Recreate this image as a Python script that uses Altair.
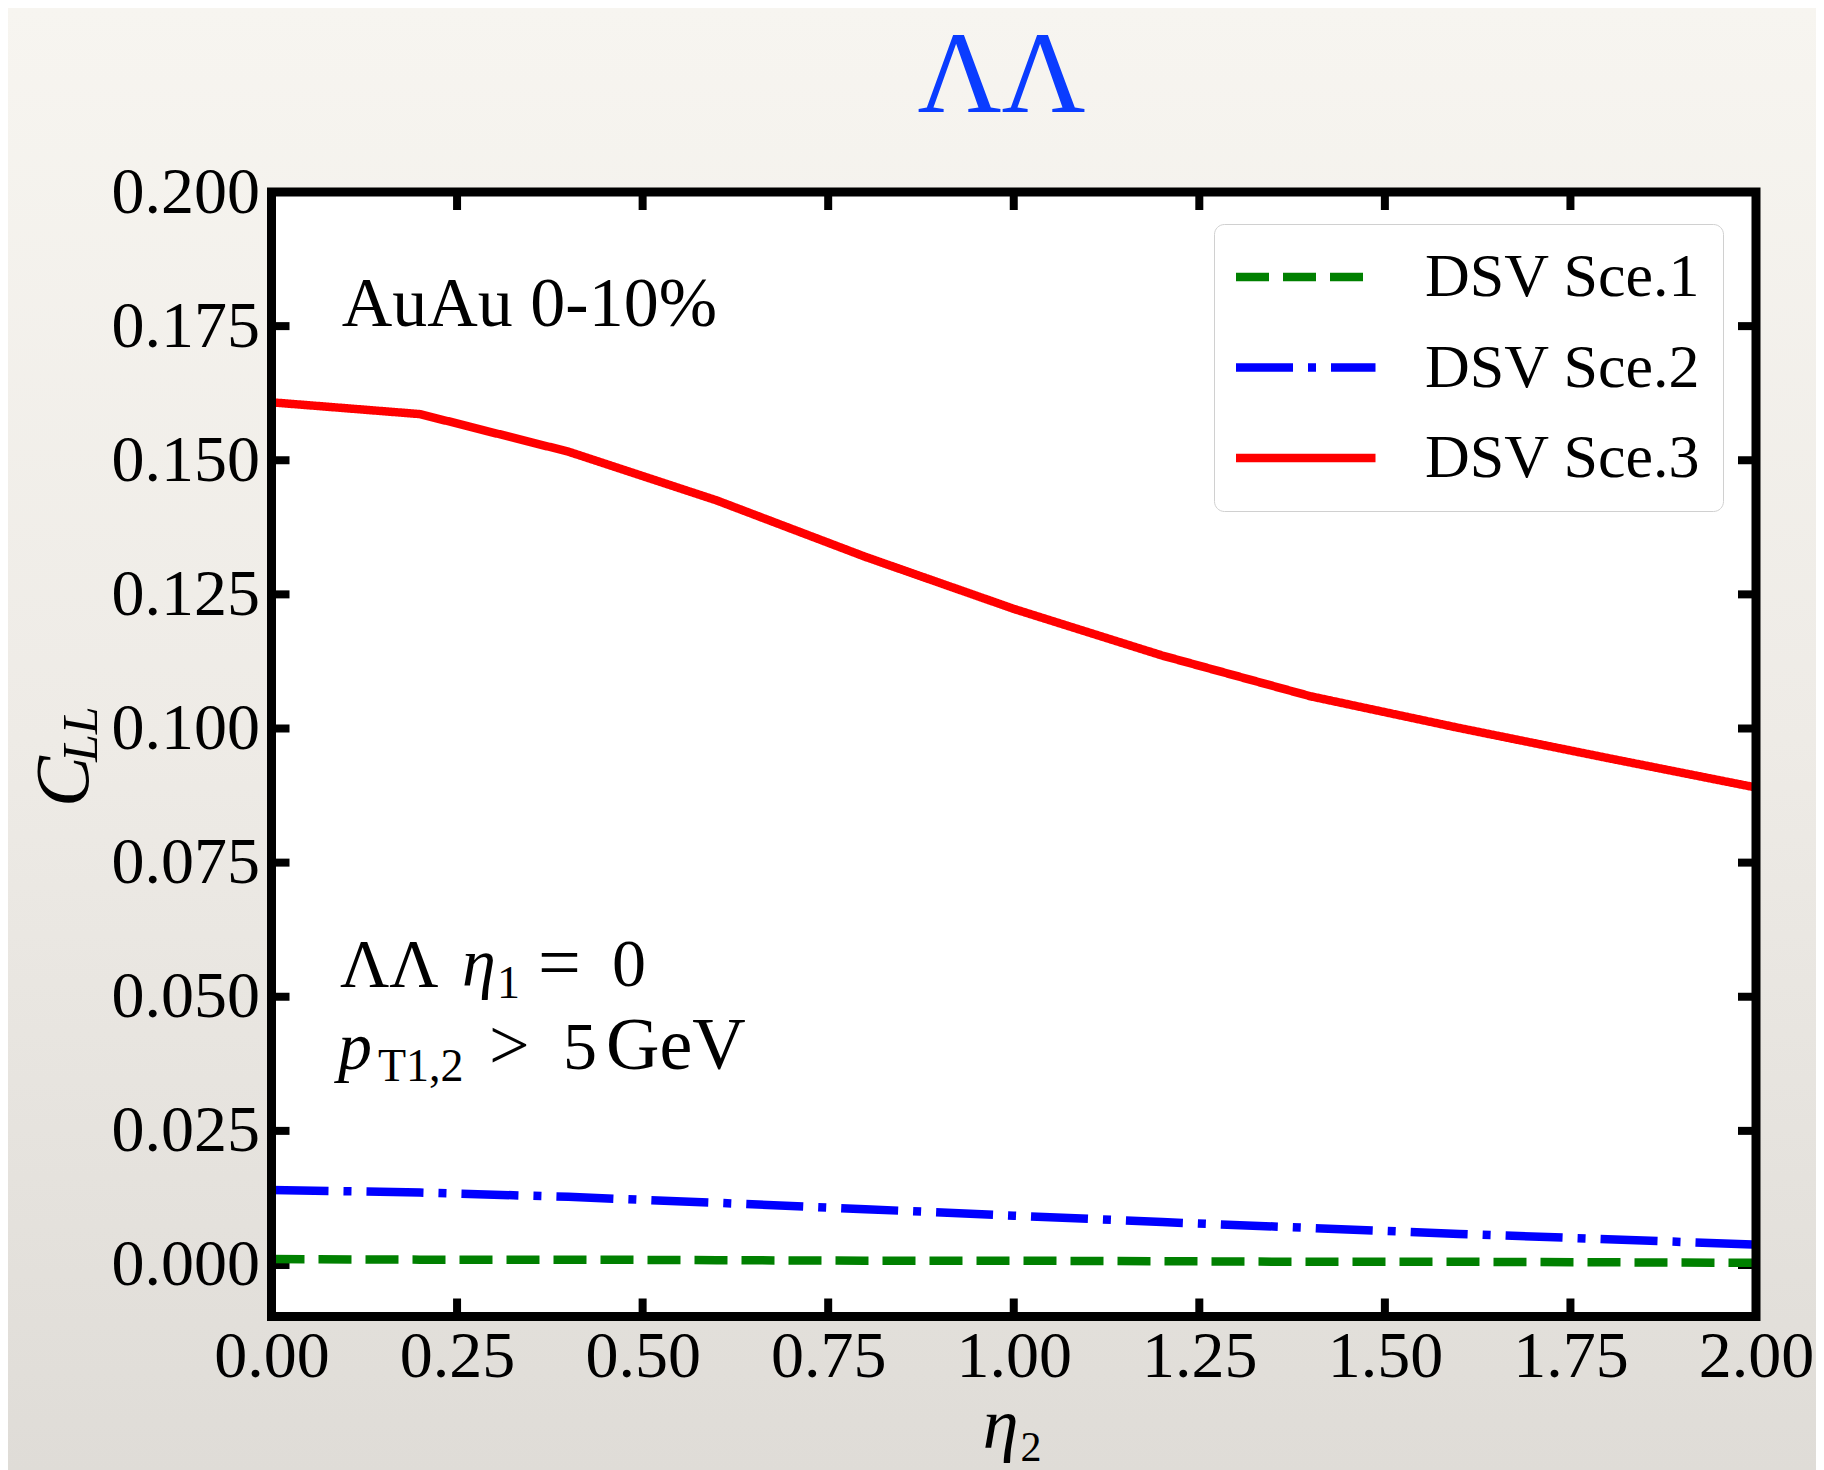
import altair as alt
import pandas as pd

# ---------------- data ----------------
eta2 = [0.0, 0.2, 0.4, 0.6, 0.8, 1.0, 1.2, 1.4, 1.6, 1.8, 2.0]
sce1 = [0.0011, 0.0010, 0.0010, 0.0009, 0.0008, 0.0008, 0.0007, 0.0006, 0.0006, 0.0005, 0.0004]
sce2 = [0.0140, 0.0135, 0.0127, 0.0116, 0.0104, 0.0092, 0.0080, 0.0069, 0.0058, 0.0048, 0.0038]
sce3 = [0.1608, 0.1586, 0.1516, 0.1425, 0.1320, 0.1223, 0.1136, 0.1060, 0.1001, 0.0945, 0.0890]
series = ["DSV Sce.1", "DSV Sce.2", "DSV Sce.3"]
x_ticks = [0.0, 0.25, 0.5, 0.75, 1.0, 1.25, 1.5, 1.75, 2.0]
y_ticks = [0.0, 0.025, 0.05, 0.075, 0.1, 0.125, 0.15, 0.175, 0.2]

colors = ["#008000", "#0000ff", "#ff0000"]
dashes = [[33, 14], [57, 15, 8, 15], [1, 0]]

rows = []
for name, vals in zip(series, [sce1, sce2, sce3]):
    for xv, yv in zip(eta2, vals):
        rows.append({"eta2": xv, "cll": yv, "series": name})
df = pd.DataFrame(rows)

W, H = 1484.5, 1124.5
FONT = "Liberation Serif"

xs = alt.Scale(domain=[0, 2], nice=False, zero=False)
ys = alt.Scale(domain=[-0.0096, 0.2], nice=False, zero=False)
xaxis = alt.Axis(values=x_ticks, format=".2f", title=None, domain=False, ticks=False, grid=False,
                 labelFont=FONT, labelFontSize=66, labelPadding=8, labelColor="black",
                 labelFlush=False, labelOverlap=False, zindex=2)
yaxis = alt.Axis(values=y_ticks, format=".3f", title=None, domain=False, ticks=False, grid=False,
                 labelFont=FONT, labelFontSize=66, labelPadding=12, labelColor="black",
                 labelFlush=False, labelOverlap=False, zindex=2)

one = alt.Data(values=[{}])

grad = alt.LinearGradient(
    gradient="linear",
    stops=[alt.GradientStop(offset=0, color="#f7f5f0"),
           alt.GradientStop(offset=0.5, color="#eeebe6"),
           alt.GradientStop(offset=1, color="#dfdcd7")],
    x1=0, x2=0, y1=0, y2=1)

bg = alt.Chart(one).mark_rect(fill=grad).encode(
    x=alt.value(-263.5), x2=alt.value(1544.5), y=alt.value(-184), y2=alt.value(1278))
plotbg = alt.Chart(one).mark_rect(fill="white").encode(
    x=alt.value(0), x2=alt.value(W), y=alt.value(0), y2=alt.value(H))

xt = pd.DataFrame({"t": x_ticks})
yt = pd.DataFrame({"t": y_ticks})
TL = 18
tick_b = alt.Chart(xt).mark_rule(color="black", strokeWidth=8).encode(
    x=alt.X("t:Q", scale=xs, axis=xaxis), y=alt.value(H), y2=alt.value(H - TL))
tick_t = alt.Chart(xt).mark_rule(color="black", strokeWidth=8).encode(
    x=alt.X("t:Q", scale=xs, axis=xaxis), y=alt.value(0), y2=alt.value(TL))
tick_l = alt.Chart(yt).mark_rule(color="black", strokeWidth=8).encode(
    y=alt.Y("t:Q", scale=ys, axis=yaxis), x=alt.value(0), x2=alt.value(TL))
tick_r = alt.Chart(yt).mark_rule(color="black", strokeWidth=8).encode(
    y=alt.Y("t:Q", scale=ys, axis=yaxis), x=alt.value(W - TL), x2=alt.value(W))

leg = dict(title=None, orient="none", legendX=942.5, legendY=32,
           symbolType="M-2,0H7", symbolSize=961, symbolStrokeWidth=8.5,
           labelFont=FONT, labelFontSize=62, labelOffset=127, labelLimit=0,
           labelColor="black", rowPadding=28.5, padding=22,
           fillColor="white", strokeColor="#d0d0d0", cornerRadius=10)

lines = alt.Chart(df).mark_line(strokeWidth=8.5, strokeCap="butt").encode(
    x=alt.X("eta2:Q", scale=xs, axis=xaxis),
    y=alt.Y("cll:Q", scale=ys, axis=yaxis),
    color=alt.Color("series:N", scale=alt.Scale(domain=series, range=colors), legend=alt.Legend(**leg)),
    strokeDash=alt.StrokeDash("series:N", scale=alt.Scale(domain=series, range=dashes), legend=alt.Legend(**leg)),
)

frame = alt.Chart(one).mark_rect(fill="white", fillOpacity=0, stroke="black", strokeWidth=9).encode(
    x=alt.value(0), x2=alt.value(W), y=alt.value(0), y2=alt.value(H))


def txt(text, x, y, size, dx=0, dy=0, style="normal", align="left", color="black", angle=0, pix=False):
    m = alt.Chart(one).mark_text(text=text, font=FONT, fontSize=size, fontStyle=style, align=align,
                                 baseline="alphabetic", dx=dx, dy=dy, color=color, angle=angle)
    if pix:
        return m.encode(x=alt.value(x), y=alt.value(y))
    return m.encode(x=alt.X(datum=x, scale=xs, axis=xaxis), y=alt.Y(datum=y, scale=ys, axis=yaxis))


AX, L1, L2 = 0.0923, 0.052, 0.0365
texts = [
    txt("AuAu 0-10%", 0.0946, 0.175, 70),
    txt("ΛΛ", AX, L1, 68),
    txt("η", AX, L1, 68, dx=122, style="italic"),
    txt("1", AX, L1, 46, dx=157, dy=12),
    txt("=", AX, L1, 76, dx=198, dy=2),
    txt("0", AX, L1, 68, dx=272),
    txt("p", AX, L2, 68, dx=-2, style="italic"),
    txt("T1,2", AX, L2, 46, dx=38, dy=12),
    txt(">", AX, L2, 72, dx=149),
    txt("5", AX, L2, 68, dx=223),
    txt("GeV", AX, L2, 74, dx=266),
    # title
    txt("ΛΛ", 730, -80, 116, align="center", color="#0a3cff", pix=True),
    # x-axis title
    txt("η", 747, 1256, 72, style="italic", align="right", pix=True),
    txt("2", 749, 1269, 42, pix=True),
    # y-axis title
    txt("C", -183.5, 615, 76, style="italic", angle=270, pix=True),
    txt("LL", -174.5, 570, 50, style="italic", angle=270, pix=True),
]

chart = alt.layer(bg, plotbg, tick_b, tick_t, tick_l, tick_r, lines, frame, *texts).properties(
    width=W, height=H,
    autosize=alt.AutoSizeParams(type="none"),
    padding={"left": 263.5, "top": 184, "right": 60, "bottom": 153.5},
).configure_view(stroke=None).configure(background="#eceae5")

chart.save("out.html", embed_options={"renderer": "svg", "actions": False})
